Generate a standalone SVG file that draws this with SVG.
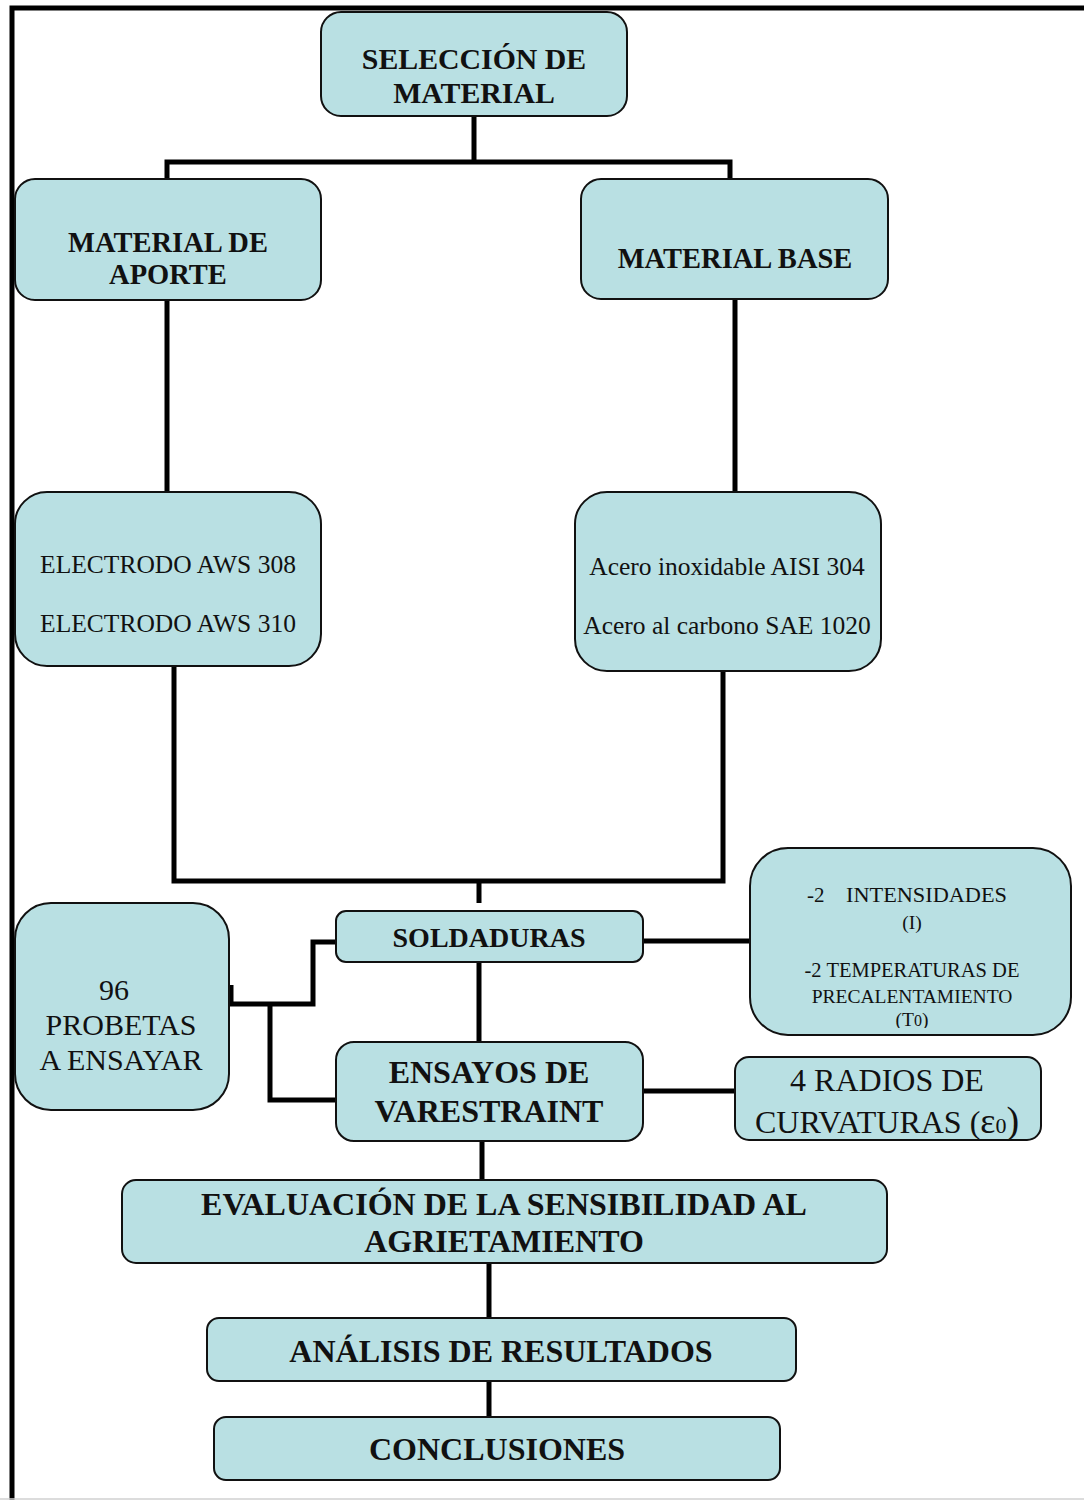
<svg xmlns="http://www.w3.org/2000/svg" width="1084" height="1500" viewBox="0 0 1084 1500">
<style>
.box{fill:#b9e0e3;stroke:#111;stroke-width:2}
.con{fill:none;stroke:#000;stroke-width:5;stroke-linejoin:miter}
.b28{font-family:"Liberation Serif","Times New Roman",serif;font-weight:bold;font-size:28.5px;fill:#111;text-anchor:middle}
.b32{font-family:"Liberation Serif","Times New Roman",serif;font-weight:bold;font-size:32px;fill:#111;text-anchor:middle}
.r24{font-family:"Liberation Serif","Times New Roman",serif;font-size:25.5px;fill:#111;text-anchor:middle}
.r28{font-family:"Liberation Serif","Times New Roman",serif;font-size:30px;fill:#111;text-anchor:middle}
.r32{font-family:"Liberation Serif","Times New Roman",serif;font-size:32px;fill:#111;text-anchor:middle}
.r20{font-family:"Liberation Serif","Times New Roman",serif;font-size:19.5px;fill:#111;text-anchor:middle}
</style>
<defs>
<clipPath id="clipInt"><rect x="740" y="840" width="344" height="188"/></clipPath>
</defs>
<rect x="0" y="0" width="1084" height="1500" fill="#fff"/>
<g id="frame">
<path d="M12,1500 V8 H1084" fill="none" stroke="#000" stroke-width="5"/>
<line x1="0" y1="1499" x2="1084" y2="1499" stroke="#d0d0d0" stroke-width="1.5"/>
</g>
<g id="connectors">
<path class="con" d="M474,116 V162 M167,178 V162 H730 V178"/>
<path class="con" d="M167,300 V492"/>
<path class="con" d="M735,300 V492"/>
<path class="con" d="M174,666 V881 H723 V672"/>
<path class="con" d="M479,881 V903"/>
<path class="con" d="M643,941 H750"/>
<path class="con" d="M479,962 V1042"/>
<path class="con" d="M336,942 H313 V1004 H230"/>
<path class="con" d="M231,985 V1006"/>
<path class="con" d="M270,1004 V1100 H336"/>
<path class="con" d="M643,1091 H735"/>
<path class="con" d="M482,1141 V1180"/>
<path class="con" d="M489,1263 V1318"/>
<path class="con" d="M489,1381 V1417"/>
</g>
<g id="seleccion">
<rect class="box" x="321" y="12" width="306" height="104" rx="20"/>
<text class="b28" x="474" y="69" style="font-size:29.8px">SELECCIÓN DE</text>
<text class="b28" x="474" y="103" style="font-size:29.8px">MATERIAL</text>
</g>
<g id="aporte">
<rect class="box" x="15" y="179" width="306" height="121" rx="20"/>
<text class="b28" x="168" y="252">MATERIAL DE</text>
<text class="b28" x="168" y="284">APORTE</text>
</g>
<g id="base">
<rect class="box" x="581" y="179" width="307" height="120" rx="20"/>
<text class="b28" x="735" y="268">MATERIAL BASE</text>
</g>
<g id="electrodos">
<rect class="box" x="15" y="492" width="306" height="174" rx="32"/>
<text class="r24" x="168" y="573">ELECTRODO AWS 308</text>
<text class="r24" x="168" y="632">ELECTRODO AWS 310</text>
</g>
<g id="aceros">
<rect class="box" x="575" y="492" width="306" height="179" rx="32"/>
<text class="r24" x="727" y="575">Acero inoxidable AISI 304</text>
<text class="r24" x="727" y="634">Acero al carbono SAE 1020</text>
</g>
<g id="soldaduras">
<rect class="box" x="336" y="911" width="307" height="51" rx="10"/>
<text class="b28" x="489" y="947" style="font-size:28px">SOLDADURAS</text>
</g>
<g id="intensidades">
<rect class="box" x="750" y="848" width="321" height="187" rx="38"/>
<g clip-path="url(#clipInt)">
<text class="r20" x="807" y="902" style="text-anchor:start;font-size:21px">-2</text>
<text class="r20" x="846" y="902" style="text-anchor:start;font-size:22px" textLength="161" lengthAdjust="spacingAndGlyphs">INTENSIDADES</text>
<text class="r20" x="912" y="929">(I)</text>
<text class="r20" x="912" y="977" style="font-size:20.5px">-2 TEMPERATURAS DE</text>
<text class="r20" x="912" y="1003">PRECALENTAMIENTO</text>
<text class="r20" x="912" y="1026">(T<tspan style="font-size:16px">0</tspan>)</text>
</g>
</g>
<g id="probetas">
<rect class="box" x="15" y="903" width="214" height="207" rx="36"/>
<text class="r28" x="114" y="1000">96</text>
<text class="r28" x="121" y="1035">PROBETAS</text>
<text class="r28" x="121" y="1070">A ENSAYAR</text>
</g>
<g id="ensayos">
<rect class="box" x="336" y="1042" width="307" height="99" rx="18"/>
<text class="b32" x="489" y="1083">ENSAYOS DE</text>
<text class="b32" x="489" y="1122">VARESTRAINT</text>
</g>
<g id="radios">
<rect class="box" x="735" y="1057" width="306" height="83" rx="14"/>
<text class="r32" x="887" y="1091">4 RADIOS DE</text>
<text class="r32" x="887" y="1133">CURVATURAS (<tspan style="font-size:36px">ε</tspan><tspan style="font-size:22px">0</tspan><tspan style="font-size:38px">)</tspan></text>
</g>
<g id="evaluacion">
<rect class="box" x="122" y="1180" width="765" height="83" rx="14"/>
<text class="b32" x="504" y="1215">EVALUACIÓN DE LA SENSIBILIDAD AL</text>
<text class="b32" x="504" y="1252">AGRIETAMIENTO</text>
</g>
<g id="analisis">
<rect class="box" x="207" y="1318" width="589" height="63" rx="12"/>
<text class="b32" x="501" y="1362">ANÁLISIS DE RESULTADOS</text>
</g>
<g id="conclusiones">
<rect class="box" x="214" y="1417" width="566" height="63" rx="12"/>
<text class="b32" x="497" y="1460">CONCLUSIONES</text>
</g>
</svg>
